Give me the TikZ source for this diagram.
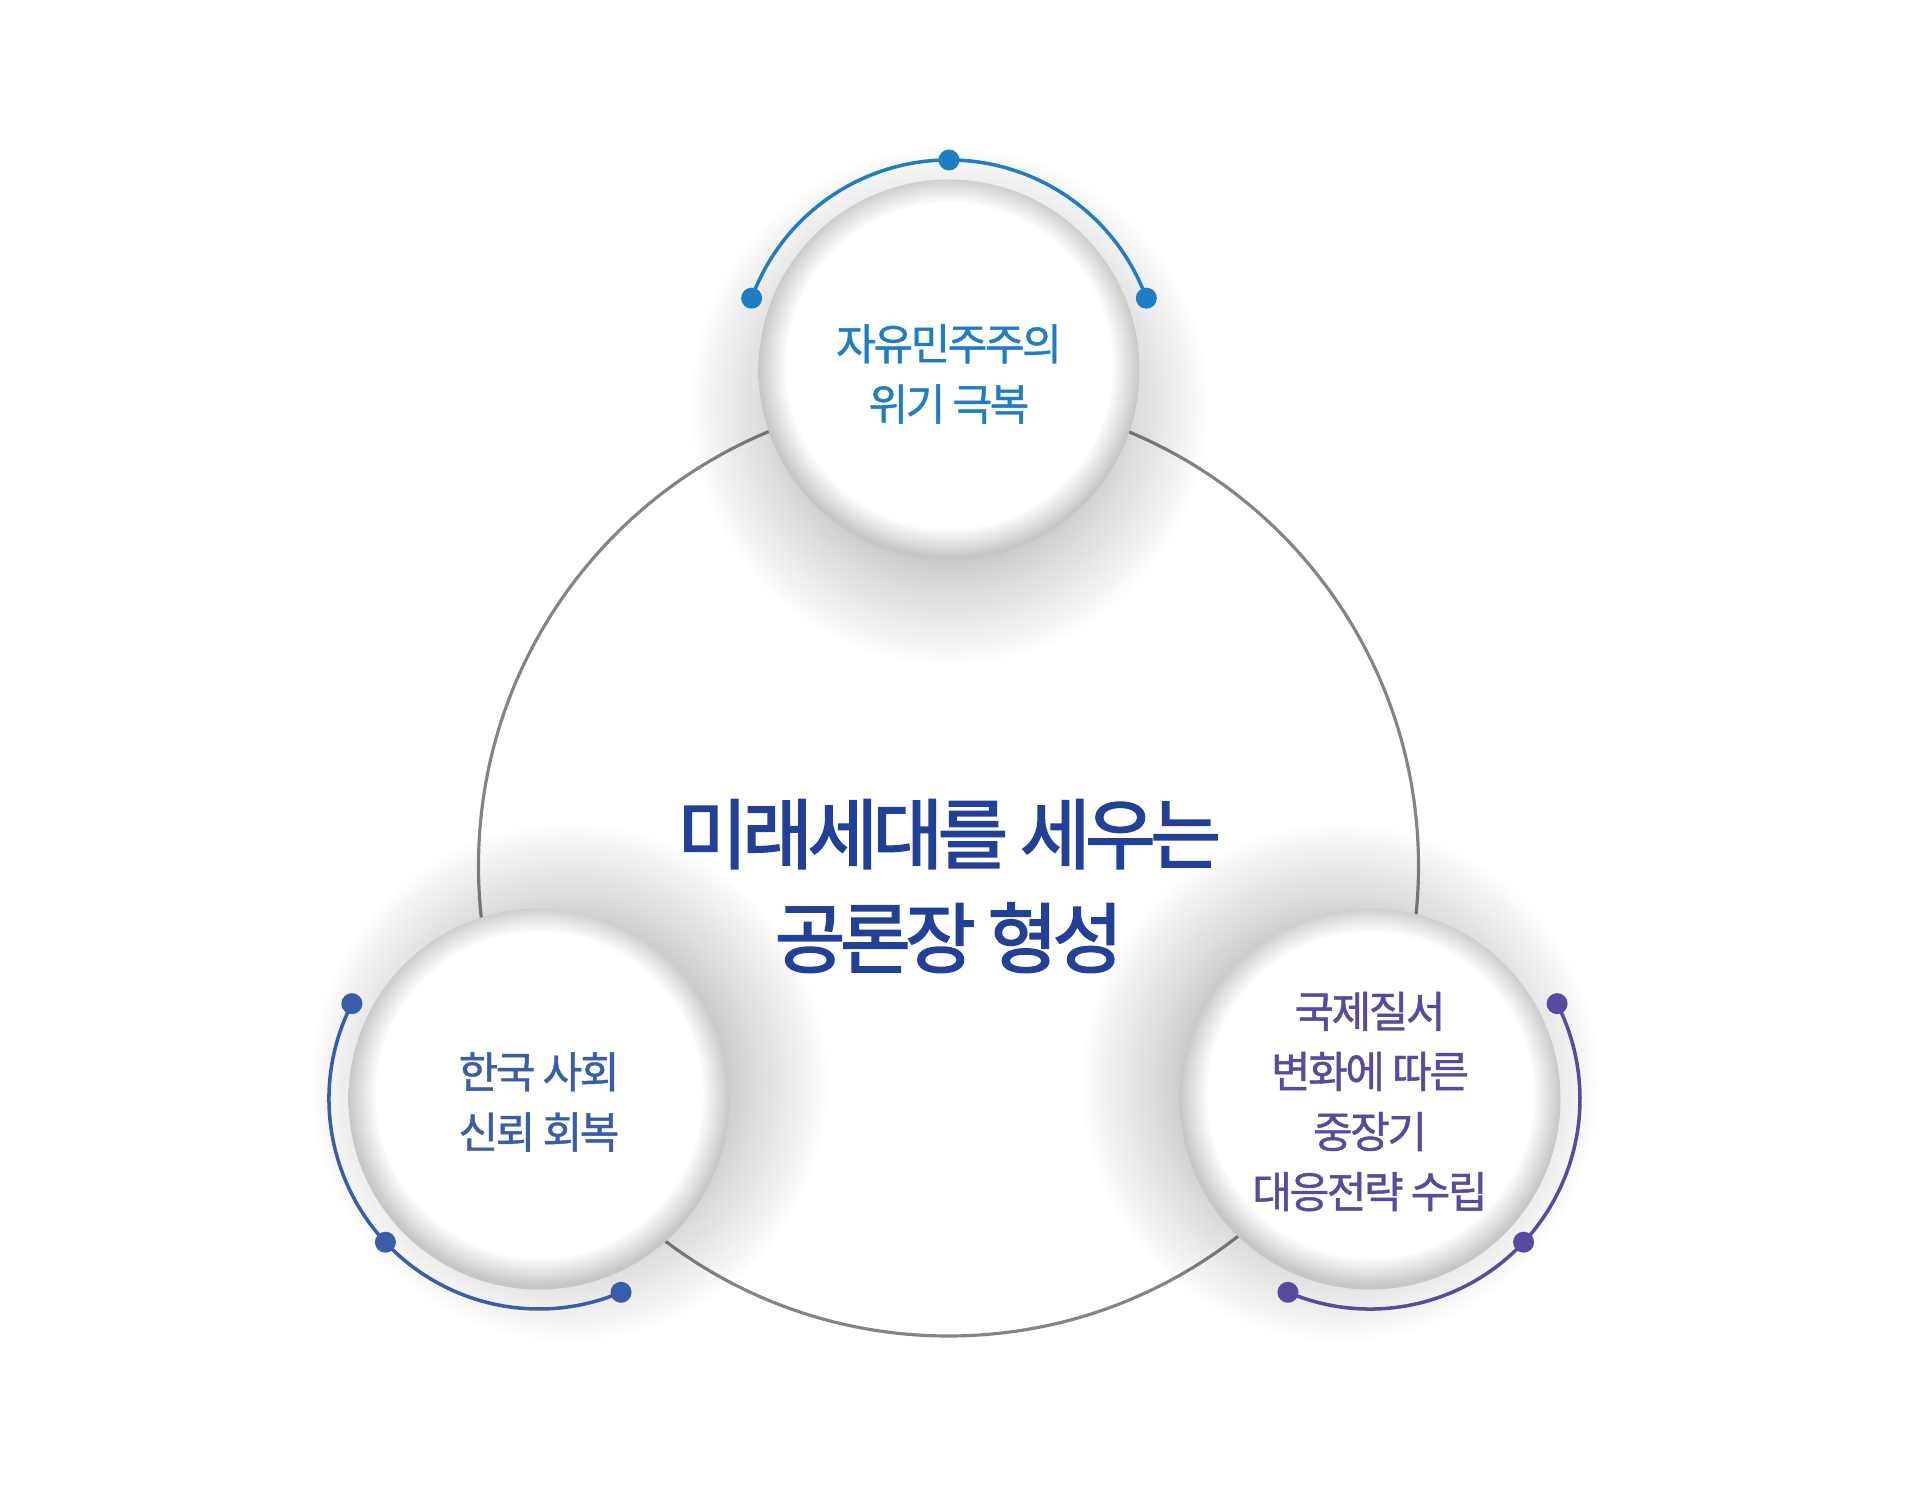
\documentclass[tikz,border=0pt]{standalone}
\usepackage{fontspec}
\newfontfamily\kofont{Noto Sans CJK KR}[LetterSpace=-6,FakeBold=1]
\newfontfamily\kotitle{Noto Sans CJK KR}[LetterSpace=-7,FakeBold=2.2]
\usetikzlibrary{positioning,fadings}

\definecolor{topblue}{RGB}{31,125,196}
\definecolor{leftblue}{RGB}{58,93,170}
\definecolor{rightpurple}{RGB}{88,74,158}
\definecolor{titleblue}{RGB}{34,64,150}
\definecolor{ringgray}{RGB}{132,132,132}

% soft rim inside the bubbles
\pgfdeclareradialshading{rimshade}{\pgfpoint{0bp}{1bp}}{color(0bp)=(white); color(21.3bp)=(white); color(25bp)=(black!22); color(50bp)=(black!22)}
% halo under the bubbles
\pgfdeclareradialshading{haloshade}{\pgfpointorigin}{color(0bp)=(white); color(14bp)=(white); color(25bp)=(black); color(50bp)=(black)}
\pgfdeclarefading{halo}{\pgfuseshading{haloshade}}

\begin{document}
\begin{tikzpicture}[x=1mm,y=1mm,
  ring/.style={draw=ringgray,line width=0.9pt,circle,minimum size=94mm,inner sep=0pt},
  bubble/.style={circle,shading=rimshade,minimum size=38.1mm,inner sep=0pt},
  blurb/.style={align=center,font=\kofont\fontsize{12.3}{17.1}\selectfont},
  title/.style={align=center,text=titleblue,font=\kotitle\fontsize{21.8}{29.6}\selectfont},
  band/.style={line width=1pt},
  shadowfx/.style={fill=black,opacity=0.22,path fading=halo}
]
\useasboundingbox (0,0) rectangle (191.9,148.9);

\node[ring] (hub) at (94.85,62.3) {};

% halos, pushed towards the middle
\fill[shadowfx] (94.9,108.4) circle (26);
\fill[shadowfx] (56.9,40.7) circle (26);
\fill[shadowfx] (134.0,40.7) circle (26);

\node[bubble] (democ) at (94.9,111.9) {};
\node[bubble] (trust) at (53.9,39.0) {};
\node[bubble] (order) at (137.0,39.0) {};

\node[blurb,text=topblue,below=0.4mm of democ.center,anchor=center] (democtxt) {자유민주주의\\위기 극복};
\node[blurb,text=leftblue,below=0.3mm of trust.center,anchor=center] (trusttxt) {한국 사회\\신뢰 회복};
\node[blurb,text=rightpurple,below=0.25mm of order.center,anchor=center] (ordertxt) {국제질서\\변화에 따른\\중장기\\대응전략 수립};

\node[title] (goal) at (94.9,60.3) {미래세대를 세우는\\공론장 형성};

% arcs with dots
\draw[band,topblue] (democ.center) ++(20:21) arc[start angle=20,end angle=160,radius=21mm];
\foreach \a in {20,90,160} \fill[topblue] (democ.center) ++(\a:21) circle[radius=1.05mm];
\draw[band,leftblue] (trust.center) ++(153:21) arc[start angle=153,end angle=293,radius=21mm];
\foreach \a in {153,223,293} \fill[leftblue] (trust.center) ++(\a:21) circle[radius=1.05mm];
\draw[band,rightpurple] (order.center) ++(-113:21) arc[start angle=-113,end angle=27,radius=21mm];
\foreach \a in {-113,-43,27} \fill[rightpurple] (order.center) ++(\a:21) circle[radius=1.05mm];
\end{tikzpicture}
\end{document}
